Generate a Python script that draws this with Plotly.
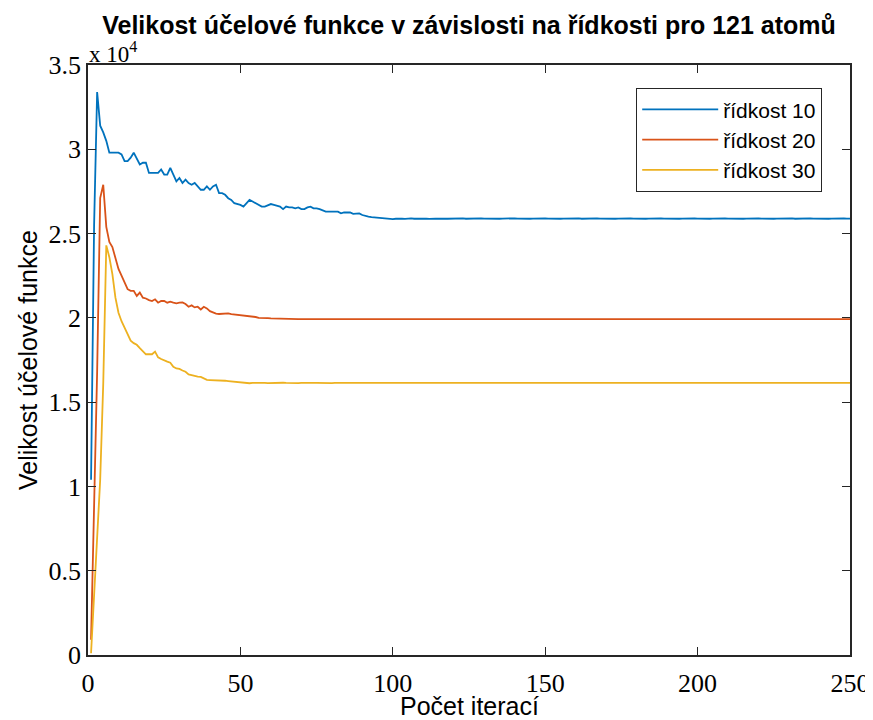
import plotly.graph_objects as go

# ---------------- data ----------------
iterations = list(range(1, 251))

ridkost10 = [
    10400, 25500, 33400, 31400, 31000, 30500, 29800, 29800, 29800, 29800,
    29700, 29300, 29300, 29500, 29800, 29400, 29100, 29200, 29200, 28600,
    28600, 28600, 28600, 28800, 28500, 28500, 28900, 28500, 28100, 28300,
    28000, 28200, 28000, 27900, 28000, 27800, 27600, 27600, 27800, 27600,
    27800, 27900, 27400, 27400, 27300, 27100, 27000, 26800, 26750, 26700,
    26600, 26800, 27000, 26900, 26800, 26700, 26600, 26600, 26700, 26750,
    26700, 26650, 26600, 26450, 26600, 26550, 26550, 26500, 26550, 26450,
    26450, 26550, 26600, 26500, 26500, 26450, 26350, 26300, 26300, 26300,
    26300, 26300, 26200, 26250, 26250, 26250, 26170, 26200, 26200, 26100,
    26040, 26000, 25970, 25950, 25920, 25900, 25900, 25880, 25860, 25860,
    25880, 25900, 25890, 25870, 25890, 25900, 25880, 25890, 25900, 25880,
    25890, 25870, 25900, 25890, 25880, 25900, 25890, 25880, 25890, 25900,
    25880, 25890, 25900, 25880, 25890, 25900, 25890, 25880, 25900, 25890,
    25880, 25890, 25900, 25890, 25880, 25890, 25900, 25880, 25890, 25900,
    25890, 25880, 25900, 25890, 25880, 25890, 25900, 25890, 25880, 25900,
    25890, 25880, 25890, 25900, 25880, 25890, 25900, 25890, 25880, 25890,
    25900, 25880, 25890, 25900, 25890, 25880, 25900, 25890, 25880, 25890,
    25900, 25890, 25880, 25890, 25900, 25880, 25890, 25900, 25890, 25880,
    25890, 25900, 25880, 25890, 25900, 25890, 25880, 25900, 25890, 25880,
    25890, 25900, 25890, 25880, 25890, 25900, 25880, 25890, 25900, 25890,
    25880, 25890, 25900, 25880, 25890, 25900, 25890, 25880, 25900, 25890,
    25880, 25890, 25900, 25890, 25880, 25890, 25900, 25880, 25890, 25900,
    25890, 25880, 25900, 25890, 25880, 25890, 25900, 25890, 25880, 25890,
    25900, 25880, 25890, 25900, 25890, 25880, 25900, 25890, 25880, 25890,
    25900, 25890, 25880, 25890, 25900, 25880, 25890, 25900, 25890, 25890,
]

ridkost20 = [
    900, 8400, 16800, 27100, 27900, 25400, 24500, 24200, 23500, 22900,
    22500, 22100, 21700, 21600, 21600, 21300, 21500, 21200, 21150, 21050,
    21000, 21100, 20900, 21000, 21000, 20900, 20960, 20900, 20860, 20900,
    20920, 20820, 20660, 20740, 20620, 20660, 20500, 20660, 20560, 20400,
    20310, 20250, 20230, 20250, 20270, 20270, 20220, 20200, 20170, 20160,
    20150, 20140, 20130, 20100, 20050, 20000, 19980, 19970, 19980, 19970,
    19960, 19950, 19950, 19940, 19930, 19920, 19930, 19930, 19920, 19920,
    19930, 19920, 19930, 19920, 19920, 19930, 19920, 19930, 19920, 19930,
    19920, 19930, 19920, 19920, 19930, 19920, 19930, 19920, 19930, 19920,
    19930, 19920, 19930, 19920, 19930, 19920, 19920, 19930, 19920, 19930,
    19920, 19930, 19920, 19930, 19920, 19930, 19920, 19920, 19930, 19920,
    19930, 19920, 19930, 19920, 19930, 19920, 19930, 19920, 19920, 19930,
    19920, 19930, 19920, 19930, 19920, 19930, 19920, 19930, 19920, 19920,
    19930, 19920, 19930, 19920, 19930, 19920, 19930, 19920, 19930, 19920,
    19920, 19930, 19920, 19930, 19920, 19930, 19920, 19930, 19920, 19930,
    19920, 19920, 19930, 19920, 19930, 19920, 19930, 19920, 19930, 19920,
    19930, 19920, 19920, 19930, 19920, 19930, 19920, 19930, 19920, 19930,
    19920, 19930, 19920, 19920, 19930, 19920, 19930, 19920, 19930, 19920,
    19930, 19920, 19930, 19920, 19920, 19930, 19920, 19930, 19920, 19930,
    19920, 19930, 19920, 19930, 19920, 19920, 19930, 19920, 19930, 19920,
    19930, 19920, 19930, 19920, 19930, 19920, 19920, 19930, 19920, 19930,
    19920, 19930, 19920, 19930, 19920, 19930, 19920, 19920, 19930, 19920,
    19930, 19920, 19930, 19920, 19930, 19920, 19930, 19920, 19920, 19930,
    19920, 19930, 19920, 19930, 19920, 19930, 19920, 19930, 19920, 19920,
    19930, 19920, 19930, 19920, 19930, 19920, 19930, 19920, 19930, 19920,
]

ridkost30 = [
    100, 3600, 7000, 10400, 16100, 24300, 23600, 22600, 21200, 20300,
    19800, 19400, 19000, 18650, 18500, 18400, 18200, 18000, 17840, 17840,
    17840, 18000, 17660, 17560, 17460, 17400, 17340, 17100, 17000, 16970,
    16880, 16800, 16650, 16600, 16570, 16520, 16500, 16400, 16320, 16310,
    16310, 16310, 16280, 16270, 16270, 16250, 16230, 16210, 16200, 16180,
    16150, 16130, 16120, 16140, 16150, 16140, 16150, 16140, 16130, 16140,
    16140, 16130, 16140, 16150, 16140, 16130, 16140, 16140, 16130, 16140,
    16150, 16140, 16130, 16140, 16140, 16130, 16140, 16150, 16140, 16130,
    16140, 16140, 16130, 16140, 16150, 16140, 16130, 16140, 16140, 16130,
    16140, 16150, 16140, 16130, 16140, 16140, 16130, 16140, 16150, 16140,
    16130, 16140, 16140, 16130, 16140, 16150, 16140, 16130, 16140, 16140,
    16130, 16140, 16150, 16140, 16130, 16140, 16140, 16130, 16140, 16150,
    16140, 16130, 16140, 16140, 16130, 16140, 16150, 16140, 16130, 16140,
    16140, 16130, 16140, 16150, 16140, 16130, 16140, 16140, 16130, 16140,
    16150, 16140, 16130, 16140, 16140, 16130, 16140, 16150, 16140, 16130,
    16140, 16140, 16130, 16140, 16150, 16140, 16130, 16140, 16140, 16130,
    16140, 16150, 16140, 16130, 16140, 16140, 16130, 16140, 16150, 16140,
    16130, 16140, 16140, 16130, 16140, 16150, 16140, 16130, 16140, 16140,
    16130, 16140, 16150, 16140, 16130, 16140, 16140, 16130, 16140, 16150,
    16140, 16130, 16140, 16140, 16130, 16140, 16150, 16140, 16130, 16140,
    16140, 16130, 16140, 16150, 16140, 16130, 16140, 16140, 16130, 16140,
    16150, 16140, 16130, 16140, 16140, 16130, 16140, 16150, 16140, 16130,
    16140, 16140, 16130, 16140, 16150, 16140, 16130, 16140, 16140, 16130,
    16140, 16150, 16140, 16130, 16140, 16140, 16130, 16140, 16150, 16140,
    16130, 16140, 16140, 16130, 16140, 16150, 16140, 16130, 16140, 16140,
]

series_names = ["řídkost 10", "řídkost 20", "řídkost 30"]
series_colors = ["#0072BD", "#D95319", "#EDB120"]

x_tick_vals = [0, 50, 100, 150, 200, 250]
y_tick_vals = [0, 5000, 10000, 15000, 20000, 25000, 30000, 35000]
y_tick_text = ["0", "0.5", "1", "1.5", "2", "2.5", "3", "3.5"]

title_text = "Velikost účelové funkce v závislosti na řídkosti pro 121 atomů"
x_title = "Počet iterací"
y_title = "Velikost účelové funkce"
exponent_text = "x 10<sup>4</sup>"

# ---------------- figure ----------------
# The page body has an 8 px margin, so the figure is 8 px smaller in each
# direction and its margins are reduced accordingly.
FIG_W, FIG_H = 865, 712
M_L, M_R, M_T, M_B = 80, 23, 57, 65
PLOT_W = FIG_W - M_L - M_R
PLOT_H = FIG_H - M_T - M_B

fig = go.Figure()
for name, color, values in zip(series_names, series_colors,
                               [ridkost10, ridkost20, ridkost30]):
    fig.add_trace(go.Scatter(
        x=iterations, y=values, mode="lines", name=name,
        line=dict(color=color, width=1.8),
    ))

axis_common = dict(
    showgrid=False, zeroline=False, showline=True, mirror="ticks",
    linecolor="#262626", linewidth=1.6,
    ticks="inside", ticklen=8, tickwidth=1.3, tickcolor="#262626",
    tickfont=dict(family="Liberation Serif", size=26, color="#000000"),
)

fig.update_layout(
    width=FIG_W, height=FIG_H,
    paper_bgcolor="white", plot_bgcolor="white",
    margin=dict(l=M_L, r=M_R, t=M_T, b=M_B, autoexpand=False),
    showlegend=True,
    title=dict(
        text=title_text, x=0.5, xref="paper", xanchor="center",
        y=1 - 17 / FIG_H, yref="container", yanchor="middle",
        font=dict(family="Liberation Sans", size=25, color="#000000", weight="bold"),
    ),
    legend=dict(
        x=(628 - M_L) / PLOT_W, y=(FIG_H - M_B - 80) / PLOT_H,
        xanchor="left", yanchor="top",
        bgcolor="white", bordercolor="#262626", borderwidth=1.2,
        font=dict(family="Liberation Sans", size=21, color="#000000"),
        itemwidth=76,
    ),
    xaxis=dict(range=[0, 250], tickvals=x_tick_vals, ticklabelstandoff=4,
               **axis_common),
    yaxis=dict(range=[0, 35000], tickvals=y_tick_vals, ticktext=y_tick_text,
               **axis_common),
)

fig.add_annotation(
    text=exponent_text, xref="paper", yref="paper", x=0, y=1,
    xanchor="left", yanchor="bottom", showarrow=False, xshift=-1, yshift=-4,
    font=dict(family="Liberation Serif", size=23, color="#000000"),
)
fig.add_annotation(
    text=x_title, xref="paper", yref="paper", x=0.5, y=-51 / PLOT_H,
    xanchor="center", yanchor="middle", showarrow=False,
    font=dict(family="Liberation Sans", size=25, color="#000000"),
)
fig.add_annotation(
    text=y_title, xref="paper", yref="paper", x=-60 / PLOT_W, y=0.5,
    xanchor="center", yanchor="middle", showarrow=False, textangle=-90,
    font=dict(family="Liberation Sans", size=25, color="#000000"),
)

fig.write_html("out.html")
